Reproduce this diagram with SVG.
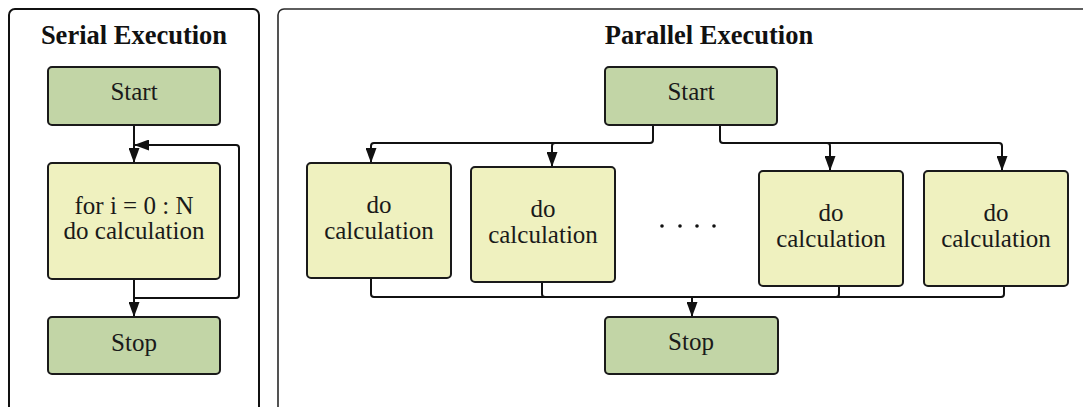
<svg xmlns="http://www.w3.org/2000/svg" width="1083" height="407" viewBox="0 0 1083 407">
  <style>
    .panel { fill: #ffffff; }
    .title { font-family: "Liberation Serif", "DejaVu Serif", serif; font-weight: bold; font-size: 26.5px; fill: #111111; text-anchor: middle; }
    .label { font-family: "Liberation Serif", "DejaVu Serif", serif; font-size: 25px; fill: #1a1a1a; text-anchor: middle; }
    .term { fill: #c2d5a6; stroke: #1a1a1a; stroke-width: 2; }
    .work { fill: #eff1bf; stroke: #1a1a1a; stroke-width: 2; }
    .wire { fill: none; stroke: #111111; stroke-width: 2; }
    .dot { fill: #111111; }
  </style>
  <defs>
    <marker id="arrow" viewBox="0 0 15 11" refX="15" refY="5.5" markerWidth="15" markerHeight="11" markerUnits="userSpaceOnUse" orient="auto">
      <path d="M0,0 L15,5.5 L0,11 Z" fill="#111111"/>
    </marker>
  </defs>

  <rect width="1083" height="407" fill="#ffffff"/>

  <!-- frames -->
  <g id="serial-panel">
    <rect class="panel" x="9" y="9" width="250" height="430" rx="6" stroke="#111111" stroke-width="2"/>
    <text class="title" x="134" y="44">Serial Execution</text>
  </g>
  <g id="parallel-panel">
    <rect class="panel" x="278" y="9" width="815" height="430" rx="6" stroke="#2a2a2a" stroke-width="1.6"/>
    <text class="title" x="709" y="44">Parallel Execution</text>
  </g>

  <!-- connectors -->
  <g id="connectors">
    <!-- serial -->
    <path class="wire" d="M134,125 V163" marker-end="url(#arrow)"/>
    <path class="wire" d="M134,279 V317" marker-end="url(#arrow)"/>
    <path class="wire" d="M134,298 H236 Q239,298 239,295 V148 Q239,145 236,145 H134" marker-end="url(#arrow)"/>
    <!-- parallel fan-out -->
    <path class="wire" d="M653,125 V140 Q653,143 650,143 H374 Q371,143 371,146 V163" marker-end="url(#arrow)"/>
    <path class="wire" d="M555,143 Q552,143 552,146 V167" marker-end="url(#arrow)"/>
    <path class="wire" d="M720,125 V140 Q720,143 723,143 H999 Q1002,143 1002,146 V171" marker-end="url(#arrow)"/>
    <path class="wire" d="M827,143 Q830,143 830,146 V171" marker-end="url(#arrow)"/>
    <!-- parallel fan-in -->
    <path class="wire" d="M371,279 V294 Q371,297 374,297 H1001 Q1004,297 1004,294 V286"/>
    <path class="wire" d="M542,282 V294 Q542,297 545,297"/>
    <path class="wire" d="M839,286 V294 Q839,297 836,297"/>
    <path class="wire" d="M692,297 V317" marker-end="url(#arrow)"/>
  </g>

  <!-- serial nodes -->
  <g id="serial-start">
    <rect class="term" x="48" y="67" width="172" height="58" rx="4"/>
    <text class="label" x="134" y="100">Start</text>
  </g>
  <g id="serial-loop">
    <rect class="work" x="48" y="163" width="172" height="116" rx="4"/>
    <text class="label" x="134" y="214">for i = 0 : N</text>
    <text class="label" x="134" y="239">do calculation</text>
  </g>
  <g id="serial-stop">
    <rect class="term" x="48" y="317" width="172" height="57" rx="4"/>
    <text class="label" x="134" y="351">Stop</text>
  </g>

  <!-- parallel nodes -->
  <g id="parallel-start">
    <rect class="term" x="605" y="67" width="172" height="58" rx="4"/>
    <text class="label" x="691" y="100">Start</text>
  </g>
  <g id="calc-1">
    <rect class="work" x="307" y="163" width="144" height="115" rx="4"/>
    <text class="label" x="379" y="213">do</text>
    <text class="label" x="379" y="239">calculation</text>
  </g>
  <g id="calc-2">
    <rect class="work" x="471" y="167" width="144" height="115" rx="4"/>
    <text class="label" x="543" y="217">do</text>
    <text class="label" x="543" y="243">calculation</text>
  </g>
  <g id="ellipsis">
    <circle class="dot" cx="662" cy="226" r="1.8"/>
    <circle class="dot" cx="680" cy="226" r="1.8"/>
    <circle class="dot" cx="697" cy="226" r="1.8"/>
    <circle class="dot" cx="714" cy="226" r="1.8"/>
  </g>
  <g id="calc-3">
    <rect class="work" x="759" y="171" width="144" height="115" rx="4"/>
    <text class="label" x="831" y="221">do</text>
    <text class="label" x="831" y="247">calculation</text>
  </g>
  <g id="calc-4">
    <rect class="work" x="924" y="171" width="144" height="115" rx="4"/>
    <text class="label" x="996" y="221">do</text>
    <text class="label" x="996" y="247">calculation</text>
  </g>
  <g id="parallel-stop">
    <rect class="term" x="605" y="317" width="173" height="57" rx="4"/>
    <text class="label" x="691" y="350">Stop</text>
  </g>
</svg>
